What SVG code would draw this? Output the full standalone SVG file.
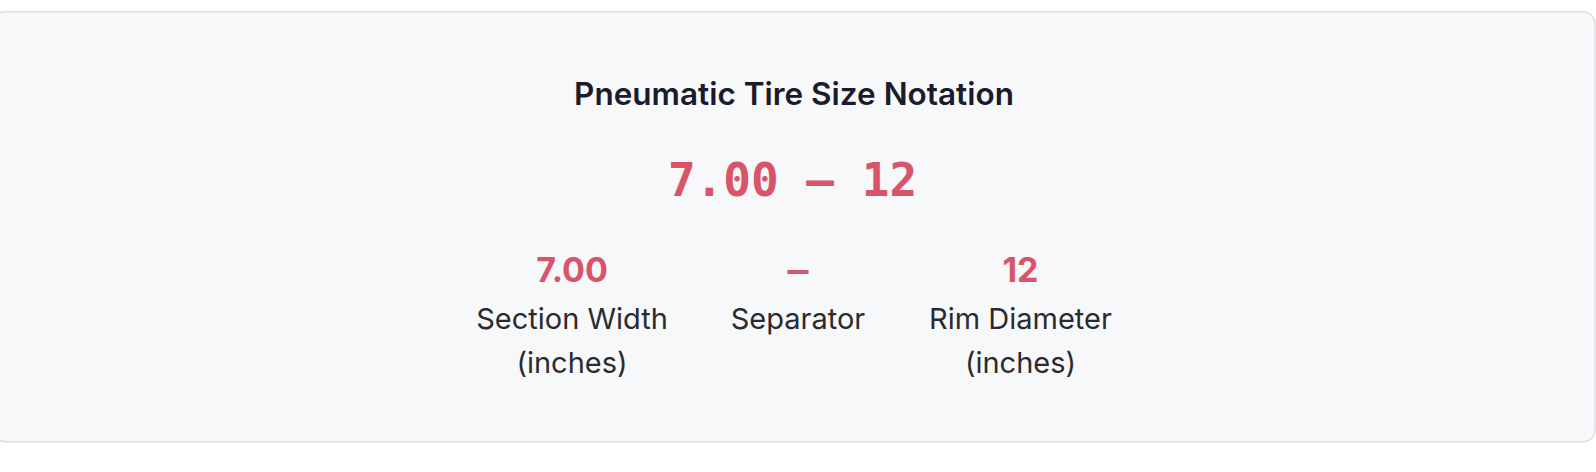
<svg xmlns="http://www.w3.org/2000/svg" width="1596" height="472" viewBox="0 0 1596 472">
  <style>
    .title { font-family: Inter, "Noto Sans", "Liberation Sans", sans-serif; font-weight: 600; font-size: 31.5px; fill: #1b1b2b; text-anchor: middle; }
    .code { font-family: "DejaVu Sans Mono", "Liberation Mono", monospace; font-weight: bold; font-size: 46px; fill: #d95468; text-anchor: middle; }
    .val { font-family: Inter, "Noto Sans", "Liberation Sans", sans-serif; font-weight: 700; font-size: 34px; fill: #d95468; text-anchor: middle; }
    .lbl { font-family: Inter, "Noto Sans", "Liberation Sans", sans-serif; font-weight: 400; font-size: 29px; fill: #2b2b2f; text-anchor: middle; }
  </style>
  <rect x="0" y="0" width="1596" height="472" fill="#ffffff"/>
  <rect id="card" x="-7" y="11.75" width="1602" height="430" rx="12" fill="#f7f8fa" stroke="#dcdde2" stroke-width="1.5"/>
  <g id="title">
    <text class="title" x="794" y="105">Pneumatic Tire Size Notation</text>
  </g>
  <g id="notation">
    <text class="code" x="792.5" y="196">7.00 – 12</text>
  </g>
  <g id="section-width">
    <text class="val" x="572" y="282">7.00</text>
    <text class="lbl" x="572" y="329">Section Width</text>
    <text class="lbl" x="572" y="373">(inches)</text>
  </g>
  <g id="separator">
    <text class="val" x="798" y="282" textLength="21" lengthAdjust="spacingAndGlyphs">–</text>
    <text class="lbl" x="798" y="329">Separator</text>
  </g>
  <g id="rim-diameter">
    <text class="val" x="1020.5" y="282">12</text>
    <text class="lbl" x="1020.5" y="329">Rim Diameter</text>
    <text class="lbl" x="1020.5" y="373">(inches)</text>
  </g>
  <g id="connectors"/>
</svg>
